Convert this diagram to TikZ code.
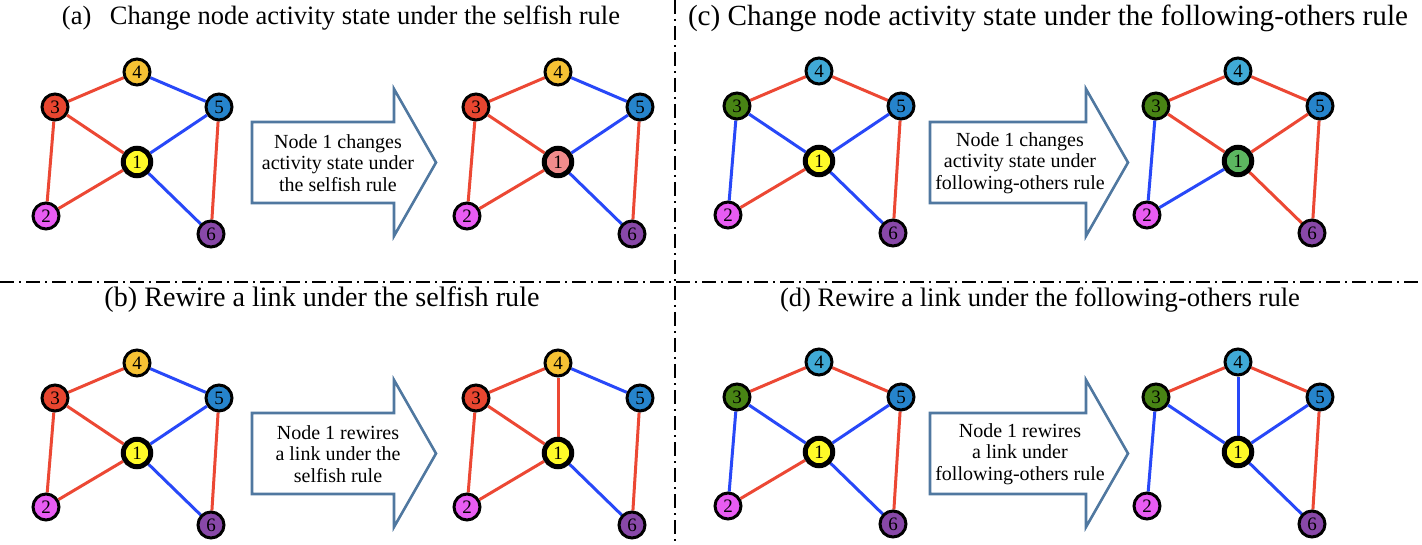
\documentclass[tikz,border=0pt]{standalone}
\usepackage{fontspec}
\setmainfont{Liberation Serif}
\usetikzlibrary{backgrounds}

\definecolor{edgered}{RGB}{236,72,52}
\definecolor{edgeblue}{RGB}{40,72,248}
\definecolor{cgold}{RGB}{246,194,52}
\definecolor{cred}{RGB}{232,70,48}
\definecolor{cblue}{RGB}{38,132,204}
\definecolor{cyel}{RGB}{255,250,40}
\definecolor{cpink}{RGB}{240,140,140}
\definecolor{cmag}{RGB}{232,92,242}
\definecolor{cpurple}{RGB}{136,72,168}
\definecolor{cgreen}{RGB}{72,132,20}
\definecolor{csky}{RGB}{64,170,214}
\definecolor{cgreenl}{RGB}{92,182,96}
\definecolor{arrowblue}{RGB}{80,120,160}

\tikzset{
  vtx/.style={circle, draw=black, line width=3pt, minimum size=26pt,
    inner sep=0pt, font=\fontsize{19}{19}\selectfont},
  hub/.style={vtx, line width=5pt, minimum size=27.5pt},
  edge/.style={line width=3pt},
  blockarrow/.style={draw=arrowblue, line width=2.6pt, fill=white, line join=miter},
  arrowtext/.style={align=center, font=\fontsize{20}{21.5}\selectfont},
  title/.style={font=\fontsize{26}{30}\selectfont, inner sep=0pt},
  divider/.style={line width=1.3pt, dash pattern=on 14pt off 5pt on 2pt off 5pt}
}

% six-node network; #1 prefix, (#2,#3) position of node 1,
% #4 fill of node 1, #5 fill of node 3, #6 fill of node 4
\newcommand\netnodes[6]{%
  \node[hub, fill=#4] (#1-1) at (#2,#3) {1};
  \node[vtx, fill=cmag] (#1-2) at ({#2-91},{#3+54}) {2};
  \node[vtx, fill=#5] (#1-3) at ({#2-82},{#3-55}) {3};
  \node[vtx, fill=#6] (#1-4) at ({#2},{#3-90}) {4};
  \node[vtx, fill=cblue] (#1-5) at ({#2+82},{#3-55}) {5};
  \node[vtx, fill=cpurple] (#1-6) at ({#2+74},{#3+72}) {6};
}
% links of a network: list of from/to/colour
\newcommand\netlinks[2]{%
  \begin{scope}[on background layer]
    \foreach \u/\v/\c in {#2} \draw[edge, draw=\c] (#1-\u) -- (#1-\v);
  \end{scope}
}
% block arrow; #1 left x, #2 tip x, #3 centre y
\newcommand\bigarrow[3]{%
  \draw[blockarrow] (#1,{#3-40.5}) -- ({#2-42},{#3-40.5}) -- ({#2-42},{#3-73.5})
    -- (#2,#3) -- ({#2-42},{#3+73.5}) -- ({#2-42},{#3+40.5})
    -- (#1,{#3+40.5}) -- cycle;
}

\begin{document}
\begin{tikzpicture}[x=1pt, y=-1pt]
  \useasboundingbox (0,0) rectangle (1422,545);

  % panel separators
  \coordinate (vtop) at (675,0);
  \coordinate (vbot) at (675,545);
  \coordinate (hleft) at (0,282);
  \coordinate (hright) at (1422,282);
  \draw[divider] (vtop) -- (vbot);
  \draw[divider] (hleft) -- (hright);

  % titles
  \node[title] (ta) at (341,18) {\resizebox{558pt}{!}{(a)\hspace{0.7em}Change node activity state under the selfish rule}};
  \node[title] (tc) at (1048,18) {\resizebox{720pt}{!}{(c) Change node activity state under the following-others rule}};
  \node[title] (tb) at (322,300) {\resizebox{435pt}{!}{(b) Rewire a link under the selfish rule}};
  \node[title] (td) at (1040,300) {\resizebox{520pt}{!}{(d) Rewire a link under the following-others rule}};

  % (a) selfish rule, activity change
  \netnodes{al}{137}{162}{cyel}{cred}{cgold}
  \netlinks{al}{3/4/edgered, 4/5/edgeblue, 3/1/edgered, 5/1/edgeblue,
    3/2/edgered, 2/1/edgered, 1/6/edgeblue, 5/6/edgered}
  \bigarrow{252}{436}{162.5}
  \node[arrowtext] (aa) at (338,163) {Node 1 changes\\activity state under\\the selfish rule};
  \netnodes{ar}{558}{162}{cpink}{cred}{cgold}
  \netlinks{ar}{3/4/edgered, 4/5/edgeblue, 3/1/edgered, 5/1/edgeblue,
    3/2/edgered, 2/1/edgered, 1/6/edgeblue, 5/6/edgered}

  % (c) following-others rule, activity change
  \netnodes{cl}{819}{161}{cyel}{cgreen}{csky}
  \netlinks{cl}{3/4/edgered, 4/5/edgered, 3/1/edgeblue, 5/1/edgeblue,
    3/2/edgeblue, 2/1/edgered, 1/6/edgeblue, 5/6/edgered}
  \bigarrow{930}{1128}{162.5}
  \node[arrowtext] (ca) at (1020,163) {Node 1 changes\\activity state under\\following-others rule};
  \netnodes{cr}{1238}{161}{cgreenl}{cgreen}{csky}
  \netlinks{cr}{3/4/edgered, 4/5/edgered, 3/1/edgered, 5/1/edgered,
    3/2/edgeblue, 2/1/edgeblue, 1/6/edgered, 5/6/edgered}

  % (b) selfish rule, rewiring
  \netnodes{bl}{137}{453}{cyel}{cred}{cgold}
  \netlinks{bl}{3/4/edgered, 4/5/edgeblue, 3/1/edgered, 5/1/edgeblue,
    3/2/edgered, 2/1/edgered, 1/6/edgeblue, 5/6/edgered}
  \bigarrow{252}{436}{453.5}
  \node[arrowtext] (ba) at (338,454) {Node 1 rewires\\a link under the\\selfish rule};
  \netnodes{br}{558}{453}{cyel}{cred}{cgold}
  \netlinks{br}{3/4/edgered, 4/5/edgeblue, 4/1/edgered, 3/1/edgered,
    3/2/edgered, 2/1/edgered, 1/6/edgeblue, 5/6/edgered}

  % (d) following-others rule, rewiring
  \netnodes{dl}{819}{452}{cyel}{cgreen}{csky}
  \netlinks{dl}{3/4/edgered, 4/5/edgered, 3/1/edgeblue, 5/1/edgeblue,
    3/2/edgeblue, 2/1/edgered, 1/6/edgeblue, 5/6/edgered}
  \bigarrow{930}{1128}{453.5}
  \node[arrowtext] (da) at (1020,454) {Node 1 rewires\\a link under\\following-others rule};
  \netnodes{dr}{1238}{452}{cyel}{cgreen}{csky}
  \netlinks{dr}{3/4/edgered, 4/5/edgered, 4/1/edgeblue, 3/1/edgeblue,
    5/1/edgeblue, 3/2/edgeblue, 1/6/edgeblue, 5/6/edgered}
\end{tikzpicture}
\end{document}
